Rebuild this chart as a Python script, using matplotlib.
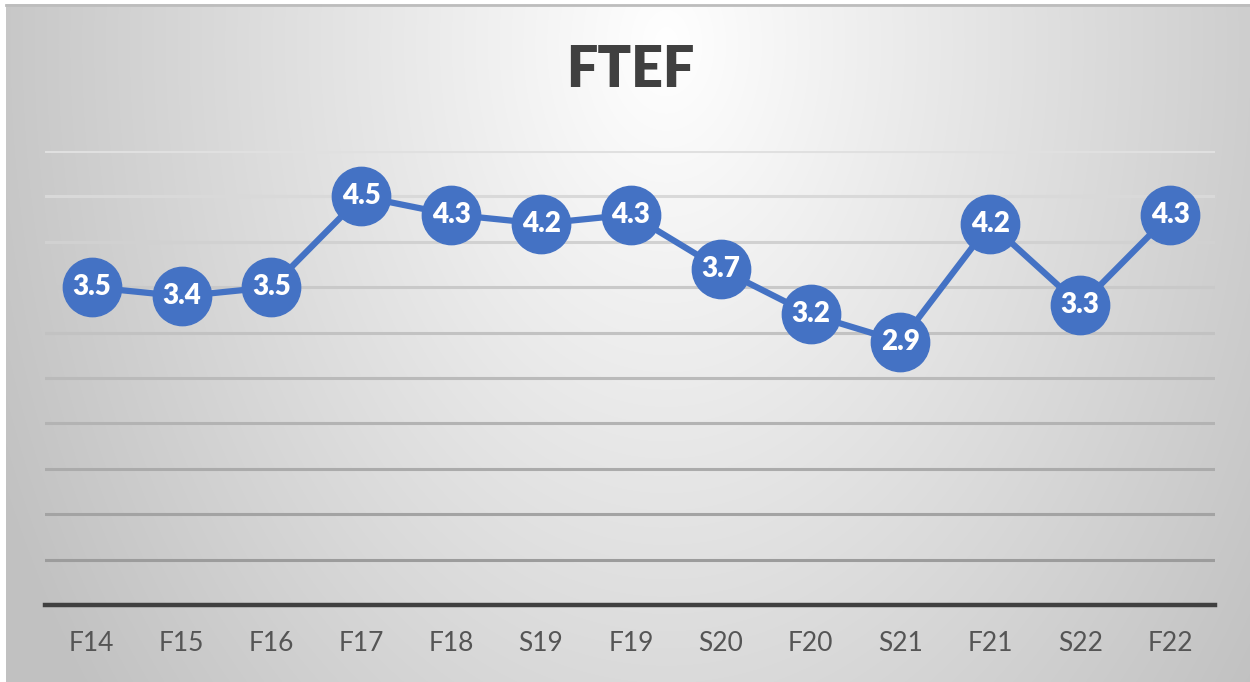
import numpy as np
import matplotlib.pyplot as plt

TERMS = ["F14", "F15", "F16", "F17", "F18", "S19", "F19", "S20", "F20", "S21", "F21", "S22", "F22"]
FTEF = [3.5, 3.4, 3.5, 4.5, 4.3, 4.2, 4.3, 3.7, 3.2, 2.9, 4.2, 3.3, 4.3]
GRID_LEVELS = [0.5, 1.0, 1.5, 2.0, 2.5, 3.0, 3.5, 4.0, 4.5, 5.0]

BLUE = "#4472C4"
W, H = 1250, 682

plt.rcParams['font.family'] = ['Lato', 'DejaVu Sans']

fig = plt.figure(figsize=(W / 100, H / 100), dpi=100)
fig.patch.set_facecolor("white")

# radial gradient background (light near the title, gray towards the edges)
bg = fig.add_axes([6 / W, 0, (W - 6) / W, (H - 4) / H])
bg.set_axis_off()
yy, xx = np.mgrid[0:678, 0:1244]
d = np.sqrt(((xx - 660) / 760.0) ** 2 + ((yy - 40) / 1100.0) ** 2)
shade = np.clip(1.0 - 0.25 * d, 0.76, 1.0)
rgb = np.dstack([shade, shade, shade])
bg.imshow(rgb, aspect="auto", interpolation="bilinear")
# thin gray frame line at top
fig.add_artist(plt.Line2D([6 / W, 1], [(H - 5) / H, (H - 5) / H], color="#bdbdbd", lw=2))

ax = fig.add_axes([45 / W, 77 / H, 1170 / W, 454 / H])
ax.patch.set_alpha(0)
ax.set_xlim(-0.52, 12.5)
ax.set_ylim(0, 5)

x = np.arange(len(TERMS))

for lvl in GRID_LEVELS:
    g = 0.58 + 0.30 * (lvl / 5.0)
    ax.axhline(lvl, color=(g, g, g), lw=2.2, zorder=1)
ax.axhline(0, color="#404040", lw=3.2, zorder=2, clip_on=False)

ax.plot(x, FTEF, color=BLUE, lw=4.5, marker="o", markersize=42,
        markerfacecolor=BLUE, markeredgecolor=BLUE, zorder=3)
for xi, v in zip(x, FTEF):
    ax.text(xi, v, f"{v:.1f}", ha="center", va="center", color="white",
            fontsize=20, fontweight="heavy", zorder=4)

for s in ax.spines.values():
    s.set_visible(False)
ax.set_yticks([])
ax.set_xticks(x)
ax.set_xticklabels(TERMS, fontsize=19, color="#555555")
ax.tick_params(axis="x", length=0, pad=19)

fig.text(630 / W, 1 - 70 / H, "FTEF", ha="center", va="center",
         fontsize=40, fontweight="heavy", color="#404040")

fig.savefig("out.png", dpi=100)
